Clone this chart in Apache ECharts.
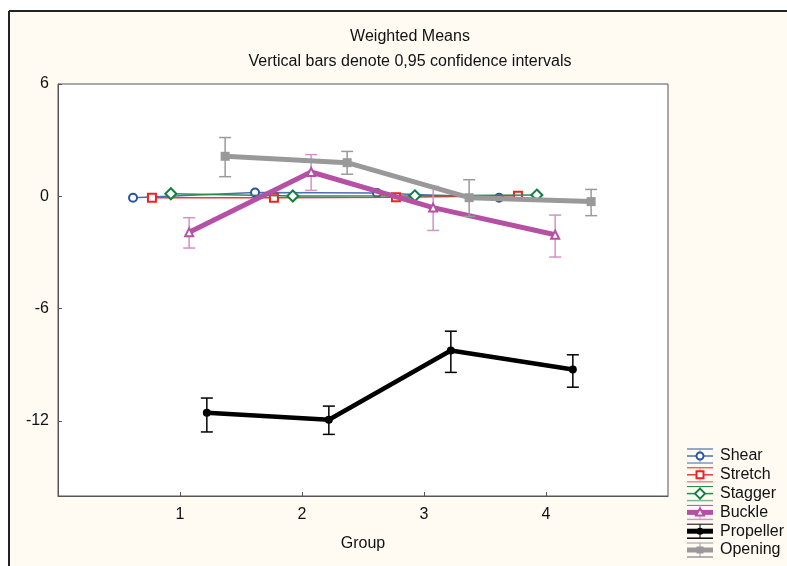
<!DOCTYPE html>
<html><head><meta charset="utf-8">
<script src="https://cdn.jsdelivr.net/npm/echarts@6/dist/echarts.min.js"></script>
<style>html,body{margin:0;padding:0;background:#fff}#c{width:787px;height:566px}</style>
</head><body><div id="c"></div>
<script>
// ---- data ----
const groups = [1, 2, 3, 4];
const seriesNames = ['Shear', 'Stretch', 'Stagger', 'Buckle', 'Propeller', 'Opening'];
const shear = [-0.07, 0.2, 0.18, -0.07];
const stretch = [-0.08, -0.08, -0.05, 0.03];
const stagger = [0.14, 0.02, 0.03, 0.07];
const buckle = [-1.91, 1.30, -0.60, -2.05];
const buckleLow = [-2.76, 0.32, -1.82, -3.24];
const buckleHigh = [-1.14, 2.23, 0.53, -1.00];
const propeller = [-11.56, -11.93, -8.23, -9.24];
const propellerLow = [-12.58, -12.71, -9.40, -10.19];
const propellerHigh = [-10.77, -11.20, -7.20, -8.46];
const opening = [2.14, 1.80, -0.07, -0.28];
const openingLow = [1.05, 1.18, -1.07, -1.03];
const openingHigh = [3.14, 2.40, 0.89, 0.37];
const yTicks = [-12, -6, 0, 6];
const xTicks = [1, 2, 3, 4];

// ---- styling (not data) ----
const xOffsets = [-0.385, -0.23, -0.075, 0.075, 0.22, 0.37];
const FONT = '"Liberation Sans", Arial, sans-serif';
const styles = [
  {color:'#2a52a5', line:'#4a6fb5', ci:'#7f98c8', width:1.5, symbol:'circle', size:8, hollow:true},
  {color:'#ee2222', line:'#e63b3b', ci:'#f08a8a', width:1.5, symbol:'rect', size:8, hollow:true},
  {color:'#138040', line:'#2a8a55', ci:'#7fb896', width:1.5, symbol:'diamond', size:11, hollow:true},
  {color:'#b550a5', line:'#b550a5', ci:'#d690c8', width:5, symbol:'triangle', size:8, hollow:true},
  {color:'#000000', line:'#000000', ci:'#000000', width:4.5, symbol:'circle', size:8, hollow:false},
  {color:'#999999', line:'#999999', ci:'#9a9a9a', width:5, symbol:'rect', size:9, hollow:false}
];
const means = [shear, stretch, stagger, buckle, propeller, opening];
const lows = [null, null, null, buckleLow, propellerLow, openingLow];
const highs = [null, null, null, buckleHigh, propellerHigh, openingHigh];

const series = [];
means.forEach((vals, s) => {
  const st = styles[s];
  if (lows[s]) {
    series.push({
      type: 'custom', name: seriesNames[s] + ' CI', silent: true, z: 2 + s * 2,
      data: groups.map((g, i) => [g + xOffsets[s], lows[s][i], highs[s][i]]),
      encode: {x: 0, y: [1, 2]},
      renderItem: (params, api) => {
        const x = api.value(0);
        const pTop = api.coord([x, api.value(2)]);
        const pBot = api.coord([x, api.value(1)]);
        const ls = {stroke: st.ci, lineWidth: 1.5};
        return {type: 'group', children: [
          {type: 'line', shape: {x1: pTop[0], y1: pTop[1], x2: pBot[0], y2: pBot[1]}, style: ls},
          {type: 'line', shape: {x1: pTop[0] - 6, y1: pTop[1], x2: pTop[0] + 6, y2: pTop[1]}, style: ls},
          {type: 'line', shape: {x1: pBot[0] - 6, y1: pBot[1], x2: pBot[0] + 6, y2: pBot[1]}, style: ls}
        ]};
      }
    });
  }
  series.push({
    type: 'line', name: seriesNames[s], z: 3 + s * 2,
    data: groups.map((g, i) => [g + xOffsets[s], vals[i]]),
    symbol: st.symbol, symbolSize: st.size, showSymbol: true,
    lineStyle: {color: st.line, width: st.width},
    itemStyle: {color: st.hollow ? '#ffffff' : st.color, borderColor: st.color, borderWidth: st.hollow ? 2 : 0},
    animation: false
  });
});

// legend drawn as graphic
const legendY0 = 456, legendStep = 18.8;
const legendEls = [];
seriesNames.forEach((name, s) => {
  const st = styles[s];
  const y = legendY0 + s * legendStep;
  const x1 = 687, x2 = 713, cx = 700;
  legendEls.push({type: 'line', shape: {x1, y1: y - 7, x2, y2: y - 7}, style: {stroke: st.color, lineWidth: 1}});
  legendEls.push({type: 'line', shape: {x1, y1: y + 7, x2, y2: y + 7}, style: {stroke: st.ci, lineWidth: 1.5}});
  legendEls.push({type: 'line', shape: {x1: cx, y1: y - 7, x2: cx, y2: y + 7}, style: {stroke: st.ci, lineWidth: 1}});
  legendEls.push({type: 'line', shape: {x1, y1: y, x2, y2: y}, style: {stroke: st.line, lineWidth: st.width >= 4 ? 5 : 1.5}});
  const r = 3.5;
  let shape;
  if (st.symbol === 'circle') shape = {type: 'circle', shape: {cx, cy: y, r}};
  else if (st.symbol === 'rect') shape = {type: 'rect', shape: {x: cx - r, y: y - r, width: 2 * r, height: 2 * r}};
  else if (st.symbol === 'diamond') shape = {type: 'polygon', shape: {points: [[cx, y - 5], [cx + 5, y], [cx, y + 5], [cx - 5, y]]}};
  else shape = {type: 'polygon', shape: {points: [[cx, y - 4], [cx + 4, y + 3], [cx - 4, y + 3]]}};
  shape.style = {fill: st.hollow ? '#fff' : st.color, stroke: st.color, lineWidth: st.hollow ? 2 : 0};
  legendEls.push(shape);
  legendEls.push({type: 'text', x: 720, y: y, style: {text: name, font: '16px ' + FONT, fill: '#111', verticalAlign: 'middle', textAlign: 'left'}});
});

const chart = echarts.init(document.getElementById('c'), null, {renderer: 'canvas'});
chart.setOption({
  animation: false,
  backgroundColor: '#fffbf3',
  textStyle: {fontFamily: FONT},
  title: [
    {text: 'Weighted Means', left: 405, top: 24, textAlign: 'center', textStyle: {fontSize: 16, fontWeight: 'normal', color: '#111', fontFamily: FONT}},
    {text: 'Vertical bars denote 0,95 confidence intervals', left: 405, top: 49, textAlign: 'center', textStyle: {fontSize: 16, fontWeight: 'normal', color: '#111', fontFamily: FONT}}
  ],
  grid: {left: 58, top: 84, right: 119, bottom: 70, show: true, backgroundColor: '#ffffff', borderColor: '#555', borderWidth: 1, containLabel: false, outerBoundsMode: 'none'},
  xAxis: {
    type: 'value', min: 0, max: 5,
    name: 'Group', nameLocation: 'middle', nameGap: 40,
    nameTextStyle: {fontSize: 16, color: '#111', fontFamily: FONT},
    axisLine: {onZero: false, lineStyle: {color: '#555', width: 1}},
    axisTick: {inside: true, length: 4, customValues: xTicks, lineStyle: {color: '#555'}},
    axisLabel: {customValues: xTicks, fontSize: 16, color: '#111', margin: 11, fontFamily: FONT},
    splitLine: {show: false}
  },
  yAxis: {
    type: 'value', min: -16, max: 6,
    axisLine: {onZero: false, lineStyle: {color: '#555', width: 1}},
    axisTick: {inside: true, length: 4, customValues: yTicks, lineStyle: {color: '#555'}},
    axisLabel: {customValues: yTicks, fontSize: 16, color: '#111', margin: 9, fontFamily: FONT},
    splitLine: {show: false}
  },
  graphic: [
    {type: 'rect', shape: {x: 0, y: 0, width: 787, height: 10}, style: {fill: '#ffffff'}, silent: true},
    {type: 'rect', shape: {x: 0, y: 0, width: 8, height: 566}, style: {fill: '#ffffff'}, silent: true},
    {type: 'line', shape: {x1: 9, y1: 11, x2: 787, y2: 11}, style: {stroke: '#222', lineWidth: 2}, silent: true},
    {type: 'line', shape: {x1: 9, y1: 11, x2: 9, y2: 566}, style: {stroke: '#222', lineWidth: 2}, silent: true},
    {type: 'group', children: legendEls, silent: true}
  ],
  series: series
});
</script>
</body></html>
